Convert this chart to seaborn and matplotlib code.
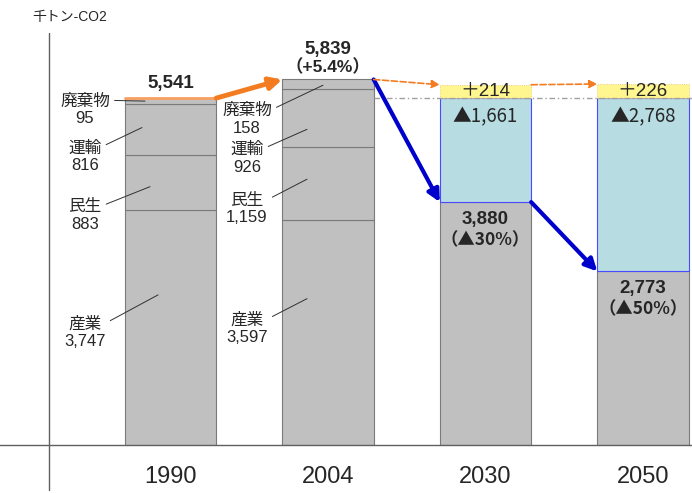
import numpy as np
import pandas as pd
import matplotlib
matplotlib.use("Agg")
import matplotlib.pyplot as plt
import seaborn as sns

# ---------- data ----------
years = ["1990", "2004", "2030", "2050"]
sectors = ["産業", "民生", "運輸", "廃棄物"]
sector_1990 = [3747, 883, 816, 95]
sector_2004 = [3597, 1159, 926, 158]
totals = [5541, 5839]
change_2004 = "（+5.4%）"
target_years = ["2030", "2050"]
target_base = [3880, 2773]
target_cut = [1661, 2768]
target_growth = [214, 226]
target_pct = ["（▲30%）", "（▲50%）"]

# ---------- style ----------
sns.set_style("white")
plt.rcParams["font.family"] = ["Liberation Sans", "Noto Sans CJK JP", "DejaVu Sans"]
CJK_FIRST = ["Noto Sans CJK JP", "Liberation Sans"]

GREY = "#c0c0c0"
EDGE = "#7a7a7a"
TEAL = "#b7dde3"
YELLOW = "#fff68f"
ORANGE = "#f47c20"
BLUE = "#0000cc"
W = 0.58
HW = W / 2

PX_PER_UNIT = 0.0626
base_px = 445
fig = plt.figure(figsize=(6.92, 4.93), dpi=100)
ax = fig.add_axes([0, (493 - base_px) / 493, 1, base_px / 493])

# stacked sector bars for 1990 / 2004
hist = pd.DataFrame({"year": ["1990"] * 4 + ["2004"] * 4,
                     "sector": sectors * 2,
                     "value": sector_1990 + sector_2004})
bottoms = {"1990": 0, "2004": 0}
for s in sectors:
    sub = hist[hist["sector"] == s]
    bot = [bottoms[y] for y in sub["year"]]
    sns.barplot(data=sub, x="year", y="value", order=years, bottom=bot,
                color=GREY, width=W, edgecolor=EDGE, linewidth=0.8,
                saturation=1, errorbar=None, ax=ax)
    for y, v in zip(sub["year"], sub["value"]):
        bottoms[y] += v

# target bars for 2030 / 2050
sns.barplot(x=target_years, y=target_base, order=years, color=GREY, width=W,
            edgecolor=EDGE, linewidth=0.8, saturation=1, errorbar=None, ax=ax)
sns.barplot(x=target_years, y=target_cut, order=years, bottom=target_base,
            color=TEAL, width=W, edgecolor="#4a4aff", linewidth=0.8,
            saturation=1, errorbar=None, ax=ax)
top_ref = [b + c for b, c in zip(target_base, target_cut)]
sns.barplot(x=target_years, y=target_growth, order=years, bottom=top_ref,
            color=YELLOW, width=W, edgecolor="#f0c060", linewidth=0.6,
            linestyle=":", saturation=1, errorbar=None, ax=ax)

ax.set_xlim(-170.5 / 157.5, (692 - 170.5) / 157.5)
ax.set_ylim(0, base_px / PX_PER_UNIT)
ax.set_xlabel("")
ax.set_ylabel("")
ax.set_yticks([])
ax.set_xticks(range(len(years)))
ax.set_xticklabels(years, fontsize=17)
ax.tick_params(axis="x", length=0, pad=15)
for side in ["top", "right", "left"]:
    ax.spines[side].set_visible(False)
ax.spines["bottom"].set_color("#606060")
ax.spines["bottom"].set_linewidth(1.0)

# y-axis line (extends below baseline)
yx = (49 - 170.5) / 157.5
ax.plot([yx, yx], [-(490 - base_px) / PX_PER_UNIT, (base_px - 33) / PX_PER_UNIT],
        color="#606060", lw=1.0, clip_on=False)
fig.text(70 / 692, 1 - 17 / 493, "千トン-CO2", fontsize=10, ha="center", va="center")

# 1990 reference level
ax.plot([1 + HW, ax.get_xlim()[1]], [totals[0], totals[0]], color="#a0a0a0",
        lw=1.0, ls=(0, (4, 2, 1, 2)), zorder=1)
ax.plot([-HW, HW], [totals[0], totals[0]], color="#f8a060", lw=2, zorder=3)

# arrows
def arrow(x0, y0, x1, y1, color, lw, ls="-", ms=18):
    ax.annotate("", xy=(x1, y1), xytext=(x0, y0),
                arrowprops=dict(arrowstyle="-|>", color=color, lw=lw, ls=ls,
                                mutation_scale=ms, shrinkA=0, shrinkB=0), zorder=5)

arrow(HW, totals[0], 1 - HW, totals[1], ORANGE, 3.5)
arrow(1 + HW, totals[1], 2 - HW, target_base[0], BLUE, 3)
arrow(2 + HW, target_base[0], 3 - HW, target_base[1], BLUE, 3)
arrow(1 + HW, totals[1], 2 - HW, top_ref[0] + target_growth[0], ORANGE, 1.2, "--", 12)
arrow(2 + HW, top_ref[0] + target_growth[0], 3 - HW, top_ref[1] + target_growth[1],
      ORANGE, 1.2, "--", 12)

# totals
u = 1 / PX_PER_UNIT
ax.text(0, totals[0] + 15 * u, f"{totals[0]:,}", ha="center", va="center",
        fontsize=13.5, fontweight="bold")
ax.text(1, totals[1] + 30 * u, f"{totals[1]:,}", ha="center", va="center",
        fontsize=13.5, fontweight="bold")
ax.text(1, totals[1] + 13 * u, change_2004, ha="center", va="center",
        fontsize=12.5, fontweight="bold")

# target labels
for i, yr in enumerate(target_years):
    xi = years.index(yr)
    ax.text(xi, top_ref[i] + target_growth[i] / 2, f"＋{target_growth[i]}",
            ha="center", va="center", fontsize=13.5)
    ax.text(xi, top_ref[i] - 19 * u, f"▲{target_cut[i]:,}", ha="center",
            va="center", fontsize=13.5, family=CJK_FIRST)
    ax.text(xi, target_base[i] - 17 * u, f"{target_base[i]:,}", ha="center",
            va="center", fontsize=13.5, fontweight="bold")
    ax.text(xi, target_base[i] - 38 * u, target_pct[i], ha="center",
            va="center", fontsize=12.5, fontweight="bold", family=CJK_FIRST)

# sector labels with leader lines
# (x offset in bar, fraction in segment, text dx, text dy) in pixels
leaders = {
    "1990": [(-0.079, 0.64, -73, -38), (-0.13, 0.43, -65, -29),
             (-0.181, 0.54, -57, -29), (-0.162, 0.5, -60, -9)],
    "2004": [(-0.133, 0.65, -60, -30), (-0.133, 0.56, -60, -30),
             (-0.133, 0.31, -60, -29), (-0.032, 0.41, -76, -34)],
}
for yr, vals in [("1990", sector_1990), ("2004", sector_2004)]:
    xi = years.index(yr)
    cum = np.concatenate([[0], np.cumsum(vals)])
    for j, (s, v) in enumerate(zip(sectors, vals)):
        ox, frac, dx, dy = leaders[yr][j]
        ax.annotate(f"{s}\n{v:,}", xy=(xi + ox, cum[j] + frac * v),
                    xytext=(dx, dy), textcoords="offset pixels",
                    ha="center", va="center", fontsize=12, linespacing=1.2,
                    arrowprops=dict(arrowstyle="-", color="#303030", lw=0.7,
                                    relpos=(1, 0.8), shrinkA=1, shrinkB=0),
                    zorder=6)

fig.savefig("out.png", dpi=100)
